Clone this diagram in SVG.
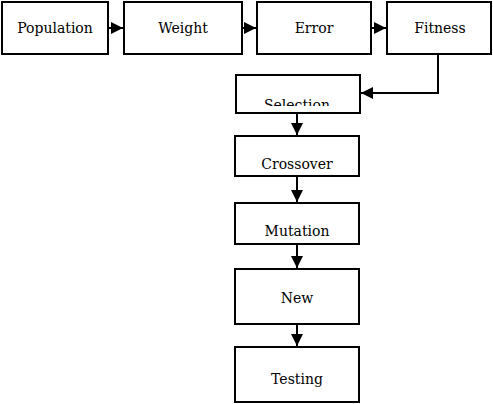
<svg xmlns="http://www.w3.org/2000/svg" width="493" height="404" viewBox="0 0 493 404">
<style>
.box{fill:#fff;stroke:#000;stroke-width:2}
.lbl{font-family:"DejaVu Serif","Liberation Serif",serif;font-size:14px;fill:#000;text-anchor:middle}
.con{fill:none;stroke:#000;stroke-width:2}
</style>
<defs>
<marker id="ah" viewBox="0 0 12 12" refX="12" refY="6" markerWidth="12" markerHeight="12" markerUnits="userSpaceOnUse" orient="auto">
<path d="M0,0 L12,6 L0,12 Z" fill="#000"/>
</marker>
<clipPath id="selclip"><rect x="236" y="75" width="125" height="31"/></clipPath>
</defs>
<rect width="493" height="404" fill="#fff"/>
<g id="population"><rect class="box" x="2" y="2" width="106" height="52"/><text class="lbl" x="55" y="33">Population</text></g>
<g id="weight"><rect class="box" x="124" y="2" width="118" height="52"/><text class="lbl" x="183" y="33">Weight</text></g>
<g id="error"><rect class="box" x="257" y="2" width="114" height="52"/><text class="lbl" x="314" y="33">Error</text></g>
<g id="fitness"><rect class="box" x="387" y="2" width="104" height="52"/><text class="lbl" x="440" y="33">Fitness</text></g>
<g id="selection"><rect class="box" x="236" y="75" width="124" height="38"/><text class="lbl" x="297" y="110" clip-path="url(#selclip)">Selection</text></g>
<g id="crossover"><rect class="box" x="235" y="136" width="124" height="40"/><text class="lbl" x="297" y="169">Crossover</text></g>
<g id="mutation"><rect class="box" x="235" y="203" width="124" height="41"/><text class="lbl" x="297" y="236">Mutation</text></g>
<g id="new"><rect class="box" x="235" y="269" width="124" height="55"/><text class="lbl" x="297" y="303">New</text></g>
<g id="testing"><rect class="box" x="235" y="347" width="124" height="55"/><text class="lbl" x="297" y="384">Testing</text></g>
<g id="connectors">
<line class="con" x1="108" y1="28" x2="123" y2="28" marker-end="url(#ah)"/>
<line class="con" x1="242" y1="28" x2="256" y2="28" marker-end="url(#ah)"/>
<line class="con" x1="371" y1="28" x2="386" y2="28" marker-end="url(#ah)"/>
<polyline class="con" points="438,54 438,93 361,93" marker-end="url(#ah)"/>
<line class="con" x1="297" y1="113" x2="297" y2="135" marker-end="url(#ah)"/>
<line class="con" x1="297" y1="176" x2="297" y2="202" marker-end="url(#ah)"/>
<line class="con" x1="297" y1="244" x2="297" y2="268" marker-end="url(#ah)"/>
<line class="con" x1="297" y1="324" x2="297" y2="346" marker-end="url(#ah)"/>
</g>
</svg>
